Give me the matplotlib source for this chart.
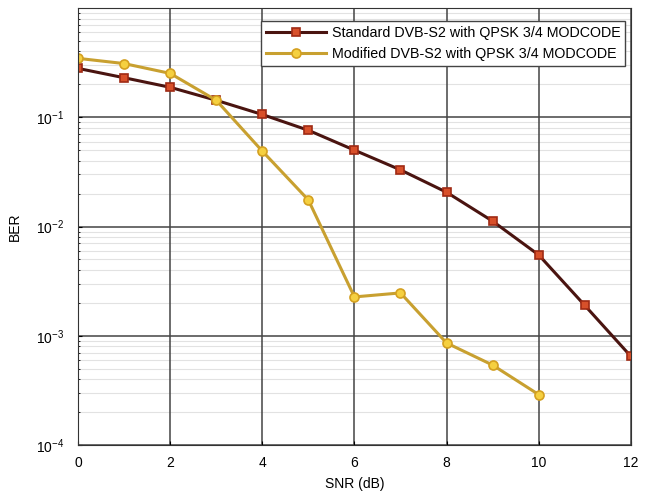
import numpy as np
import matplotlib.pyplot as plt
from matplotlib.ticker import LogLocator, NullFormatter

plt.rcParams['font.family'] = ['Liberation Sans', 'DejaVu Sans']
plt.rcParams['mathtext.fontset'] = 'custom'
plt.rcParams['mathtext.rm'] = 'Liberation Sans'
plt.rcParams['mathtext.it'] = 'Liberation Sans'

# SNR values (dB)
snr_std = [0, 1, 2, 3, 4, 5, 6, 7, 8, 9, 10, 11, 12]
snr_mod = [0, 1, 2, 3, 4, 5, 6, 7, 8, 9, 10]

# BER
ber_std = [0.28, 0.23, 0.188, 0.143, 0.106, 0.076, 0.050, 0.033, 0.0206, 0.0112, 0.0055, 0.0019, 0.00065]
ber_mod = [0.346, 0.31, 0.252, 0.143, 0.049, 0.0175, 0.00227, 0.00247, 0.00086, 0.00054, 0.00029]

lbl_std = "Standard DVB-S2 with QPSK 3/4 MODCODE"
lbl_mod = "Modified DVB-S2 with QPSK 3/4 MODCODE"

fig = plt.figure(figsize=(6.45, 4.99), dpi=100)
ax = fig.add_axes([0.121, 0.108, 0.857, 0.876])

ax.semilogy(snr_std, ber_std, '-s', color='#4a1410', lw=2.2,
            mfc='#d8502a', mec='#a02a14', ms=5.5, mew=1.2, label=lbl_std)
ax.semilogy(snr_mod, ber_mod, '-o', color='#c8a030', lw=2.2,
            mfc='#f5d040', mec='#d4a020', ms=6.5, mew=1.2, label=lbl_mod)

ax.set_xlim(0, 12)
ax.set_ylim(1e-4, 1)
ax.set_xticks([0, 2, 4, 6, 8, 10, 12])
ax.yaxis.set_minor_locator(LogLocator(base=10, subs=np.arange(2, 10), numticks=10))
ax.yaxis.set_minor_formatter(NullFormatter())
ax.set_yticks([1e-4, 1e-3, 1e-2, 1e-1])

ax.grid(True, which='minor', axis='y', color='#e2e2e2', lw=0.8)
ax.grid(True, which='major', color='#444444', lw=1.1)
ax.set_axisbelow(True)
ax.yaxis.set_zorder(0.4)   # keep light minor lines under the vertical grid
ax.xaxis.set_zorder(0.6)
ax.tick_params(which='both', direction='in', labelsize=10, length=3)
ax.tick_params(axis='y', pad=10)
ax.tick_params(axis='x', pad=8)
ax.tick_params(which='minor', length=1.5)
for s in ax.spines.values():
    s.set_color('#333333')

ax.set_xlabel("SNR (dB)", fontsize=10, labelpad=5)
ax.set_ylabel("BER", fontsize=10, labelpad=10)

ax.legend(loc='upper right', bbox_to_anchor=(0.99, 0.97), fontsize=10.3,
          frameon=True, fancybox=False, edgecolor='#444444', framealpha=1,
          borderaxespad=0, handlelength=4.2, labelspacing=0.45,
          borderpad=0.35, handletextpad=0.4)

fig.savefig("out.png", dpi=100)
